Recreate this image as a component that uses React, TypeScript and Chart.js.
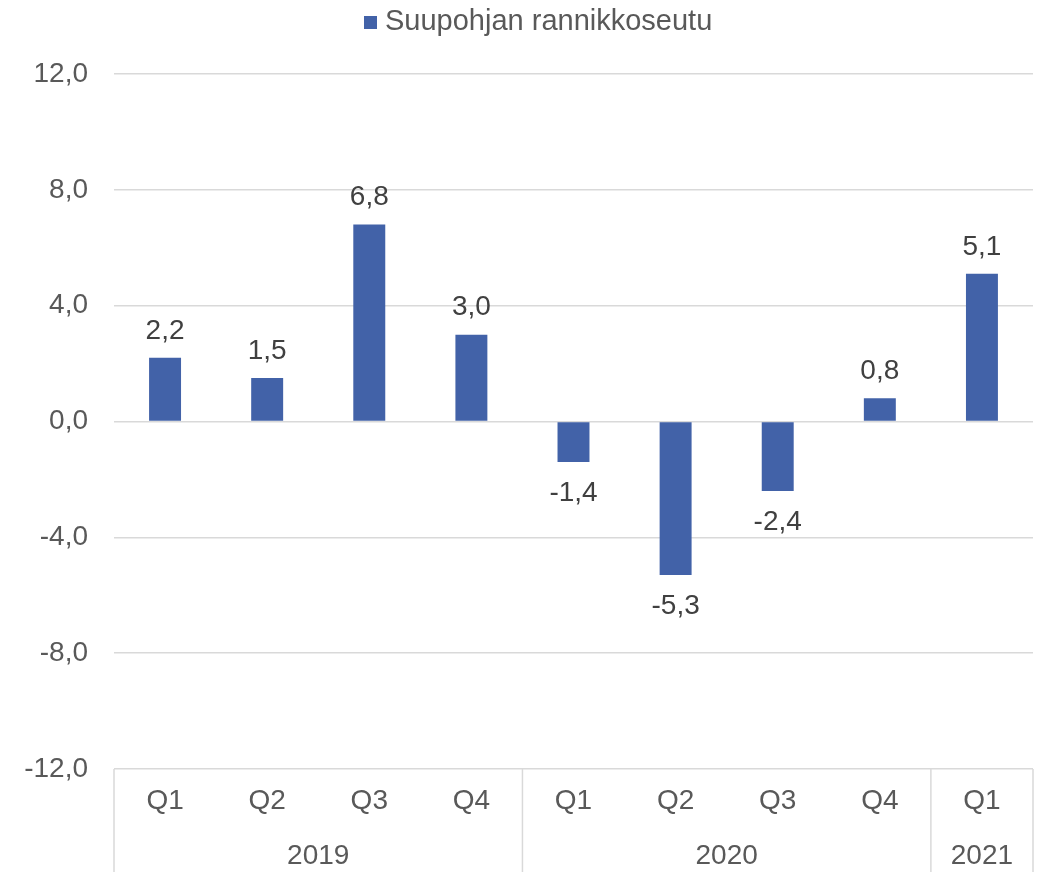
import React, { useEffect, useRef } from "react";
import { Chart, registerables } from "chart.js";

Chart.register(...registerables);

const quarters = ["Q1", "Q2", "Q3", "Q4", "Q1", "Q2", "Q3", "Q4", "Q1"];
const years = ["2019", "2020", "2021"];
const yearSpans = [4, 4, 1];
const values = [2.2, 1.5, 6.8, 3.0, -1.4, -5.3, -2.4, 0.8, 5.1];
const seriesName = "Suupohjan rannikkoseutu";
const yMin = -12;
const yMax = 12;
const yStep = 4;

const BAR_COLOR = "#4262A8";
const GRID_COLOR = "#D9D9D9";
const TICK_COLOR = "#595959";
const LABEL_COLOR = "#404040";
const FONT = "'Liberation Sans', Arial, sans-serif";

const fmt = (v: number) => v.toFixed(1).replace(".", ",");

const overlayPlugin = {
  id: "overlay",
  afterDraw(chart: any) {
    const ctx = chart.ctx;
    const x = chart.scales.x;
    const y = chart.scales.y;
    const area = chart.chartArea;
    const bottom = chart.height;
    ctx.save();

    // category axis separators
    const half = (x.getPixelForValue(1) - x.getPixelForValue(0)) / 2;
    ctx.strokeStyle = GRID_COLOR;
    ctx.lineWidth = 1.5;
    const boundaries: number[] = [0];
    let acc = 0;
    yearSpans.forEach((s) => {
      acc += s;
      boundaries.push(acc);
    });
    boundaries.forEach((b) => {
      const px = b === 0 ? x.getPixelForValue(0) - half : x.getPixelForValue(b - 1) + half;
      ctx.beginPath();
      ctx.moveTo(px, area.bottom);
      ctx.lineTo(px, bottom);
      ctx.stroke();
    });

    // quarter labels
    ctx.fillStyle = TICK_COLOR;
    ctx.font = `28px ${FONT}`;
    ctx.textAlign = "center";
    ctx.textBaseline = "middle";
    quarters.forEach((q, i) => {
      ctx.fillText(q, x.getPixelForValue(i), area.bottom + 32);
    });
    // year labels
    let start = 0;
    years.forEach((yr, j) => {
      const end = start + yearSpans[j] - 1;
      const cx = (x.getPixelForValue(start) + x.getPixelForValue(end)) / 2;
      ctx.fillText(yr, cx, area.bottom + 87);
      start = end + 1;
    });

    // data labels
    ctx.fillStyle = LABEL_COLOR;
    const meta = chart.getDatasetMeta(0);
    meta.data.forEach((bar: any, i: number) => {
      const v = values[i];
      const yy = v >= 0 ? bar.y - 27 : bar.y + 31;
      ctx.fillText(fmt(v), bar.x, yy);
    });

    // legend
    ctx.fillStyle = BAR_COLOR;
    ctx.fillRect(364, 16, 13, 13);
    ctx.fillStyle = TICK_COLOR;
    ctx.font = `29px ${FONT}`;
    ctx.textAlign = "left";
    ctx.fillText(seriesName, 385, 22);

    ctx.restore();
  },
};

export default function App() {
  const ref = useRef<HTMLCanvasElement>(null);
  useEffect(() => {
    document.body.style.margin = "0";
    const chart = new Chart(ref.current!, {
      type: "bar",
      data: {
        labels: quarters.map((q, i) => `${q}-${i}`),
        datasets: [
          {
            label: seriesName,
            data: values,
            backgroundColor: BAR_COLOR,
            categoryPercentage: 1,
            barPercentage: 0.313,
          },
        ],
      },
      options: {
        responsive: false,
        animation: false,
        layout: { padding: { top: 74, left: 0, right: 10, bottom: 0 } },
        plugins: { legend: { display: false }, tooltip: { enabled: false } },
        scales: {
          x: {
            grid: { display: false, drawTicks: false },
            border: { display: false },
            ticks: { display: false },
            afterFit: (s: any) => {
              s.height = 103;
            },
          },
          y: {
            min: yMin,
            max: yMax,
            grid: { color: GRID_COLOR, lineWidth: 1.5, drawTicks: false },
            border: { display: false },
            ticks: {
              stepSize: yStep,
              padding: 26,
              color: TICK_COLOR,
              font: { family: FONT, size: 28 },
              callback: (v: any) => fmt(Number(v)),
            },
            afterFit: (s: any) => {
              s.width = 114;
            },
          },
        },
      },
      plugins: [overlayPlugin],
    });
    return () => chart.destroy();
  }, []);
  return (
    <div style={{ width: 1043, height: 872 }}>
      <canvas ref={ref} width={1043} height={872} style={{ display: "block" }} />
    </div>
  );
}
